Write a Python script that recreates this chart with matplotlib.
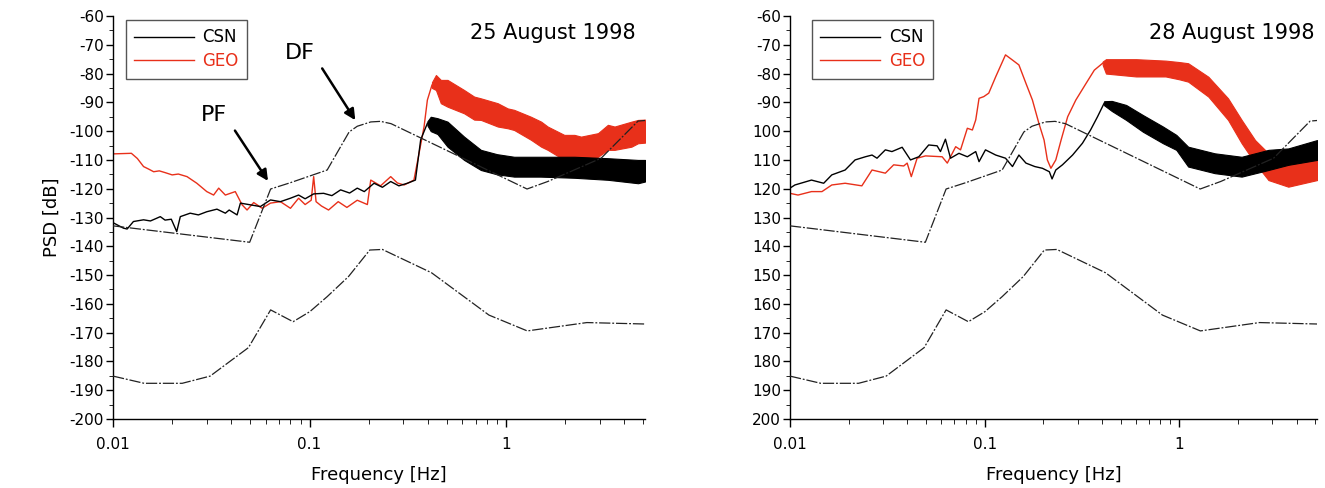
import matplotlib
matplotlib.use('Agg')
import matplotlib.pyplot as plt
from matplotlib.ticker import MultipleLocator, NullFormatter, FixedLocator
import numpy as np

plt.rcParams['font.family'] = ['DejaVu Sans']

RED = '#e8301a'

# dashed model curves (same in both panels)
upper_f = [0.01, 0.0496, 0.0634, 0.08, 0.123, 0.159, 0.175, 0.205, 0.23, 0.26, 1.28, 1.63, 3.05, 4.7, 5.1]
upper_db = [-132.9, -138.6, -120.1, -117.9, -113.5, -100.3, -98.3, -96.8, -96.6, -97.4, -120.1, -117.5, -109.4, -96.5, -96.3]
lower_f = [0.01, 0.0144, 0.0225, 0.0312, 0.0489, 0.0634, 0.0825, 0.1004, 0.123, 0.158, 0.2026, 0.235, 0.418, 0.819, 1.283, 2.58, 5.1]
lower_db = [-185.1, -187.6, -187.6, -185.1, -175.2, -162.1, -166.2, -162.7, -157.5, -150.5, -141.3, -141.1, -149.2, -163.9, -169.4, -166.5, -167.0]

# 25 August 1998, CSN: thin part then noisy band
csn25_f = [0.01, 0.0113, 0.0118, 0.0127, 0.0143, 0.0155, 0.0165, 0.0174, 0.0184, 0.0198, 0.0211, 0.022,
           0.0247, 0.0272, 0.030, 0.0338, 0.0373, 0.039, 0.0428, 0.0445, 0.050, 0.0562, 0.0633, 0.0711,
           0.080, 0.088, 0.095, 0.105, 0.118, 0.13, 0.144, 0.16, 0.175, 0.19, 0.213, 0.235, 0.259, 0.285,
           0.315, 0.346, 0.368, 0.398]
csn25_db = [-131.8, -133.7, -134.0, -131.4, -130.8, -131.2, -130.4, -129.7, -130.9, -130.6, -134.9, -129.7,
            -128.5, -129.1, -128.0, -127.1, -128.5, -127.4, -129.1, -125.0, -125.6, -126.2, -123.9, -124.5,
            -123.3, -122.2, -123.5, -121.8, -121.6, -122.4, -120.4, -121.5, -119.8, -121.0, -118.1, -119.5,
            -117.5, -119.0, -118.1, -117.0, -103.0, -97.3]
csn25_band_f = [0.398, 0.414, 0.448, 0.504, 0.612, 0.745, 0.9, 1.1, 1.5, 2.23, 3.3, 4.7, 5.1]
csn25_lo = [-98.0, -100.0, -101.0, -105.4, -110.0, -113.5, -115.0, -115.8, -115.8, -116.2, -116.9, -118.1, -117.5]
csn25_hi = [-96.6, -95.0, -95.5, -96.7, -101.9, -106.5, -108.0, -108.9, -108.9, -108.9, -109.4, -110.0, -110.0]

# 25 August 1998, GEO
geo25_f = [0.01, 0.0124, 0.0133, 0.0143, 0.0152, 0.0161, 0.0172, 0.0184, 0.020, 0.0215, 0.0238, 0.0267,
           0.030, 0.0325, 0.0345, 0.0373, 0.0419, 0.0454, 0.0481, 0.052, 0.0574, 0.0633, 0.0711, 0.080,
           0.088, 0.095, 0.102, 0.105, 0.108, 0.115, 0.125, 0.14, 0.155, 0.175, 0.197, 0.205, 0.23, 0.259,
           0.28, 0.303, 0.34, 0.361, 0.383, 0.398, 0.42]
geo25_db = [-107.9, -107.7, -109.5, -112.3, -113.2, -114.1, -113.8, -114.4, -115.2, -114.9, -115.8, -118.1,
            -121.0, -122.2, -119.8, -122.2, -121.0, -125.6, -127.4, -124.8, -126.8, -125.0, -124.5, -126.8,
            -123.3, -125.5, -124.0, -115.8, -124.5, -126.0, -127.4, -124.5, -126.5, -124.0, -125.5, -117.0,
            -119.0, -115.8, -118.0, -118.7, -117.0, -107.7, -98.4, -89.2, -84.0]
geo25_band_f = [0.42, 0.44, 0.466, 0.504, 0.612, 0.689, 0.745, 0.908, 1.02, 1.10, 1.34, 1.51, 1.63, 1.98,
                2.23, 2.41, 2.94, 3.3, 3.57, 4.35, 4.7, 5.1]
geo25_lo = [-85.0, -85.7, -90.3, -91.5, -93.8, -96.0, -96.1, -98.4, -99.0, -99.6, -103.0, -105.4, -106.5,
            -110.0, -110.5, -111.1, -108.9, -106.5, -106.5, -105.4, -104.2, -104.0]
geo25_hi = [-83.0, -80.5, -82.2, -82.2, -85.7, -88.0, -88.6, -90.3, -92.1, -92.6, -95.0, -96.7, -98.4,
            -101.3, -101.3, -101.9, -100.7, -97.8, -98.4, -96.7, -96.1, -96.0]

# 28 August 1998, CSN
csn28_f = [0.01, 0.0106, 0.0129, 0.0149, 0.0164, 0.0192, 0.0216, 0.0244, 0.0264, 0.028, 0.0309, 0.0334,
           0.0377, 0.0416, 0.0459, 0.0516, 0.057, 0.0593, 0.0629, 0.0668, 0.0738, 0.0815, 0.090, 0.0936,
           0.101, 0.114, 0.128, 0.139, 0.150, 0.163, 0.181, 0.198, 0.215, 0.222, 0.232, 0.251, 0.283,
           0.318, 0.35, 0.38, 0.411]
csn28_db = [-119.8, -118.7, -117.0, -118.1, -115.2, -113.5, -110.0, -108.9, -108.3, -109.4, -106.5, -107.1,
            -105.6, -110.0, -108.9, -104.8, -105.1, -107.1, -102.8, -109.4, -107.7, -108.9, -107.1, -110.6,
            -106.5, -108.3, -109.4, -112.3, -108.3, -111.1, -112.3, -112.9, -114.1, -116.6, -113.5, -111.7,
            -108.3, -104.2, -99.6, -95.0, -90.3]
csn28_band_f = [0.411, 0.45, 0.533, 0.65, 0.824, 0.965, 1.11, 1.52, 2.09, 2.87, 3.63, 5.1]
csn28_lo = [-91.0, -93.0, -96.1, -100.2, -104.2, -106.5, -112.3, -114.6, -115.8, -113.5, -111.7, -110.0]
csn28_hi = [-89.6, -89.5, -90.9, -94.4, -98.4, -101.3, -105.4, -107.7, -108.9, -106.5, -106.0, -103.1]

# 28 August 1998, GEO
geo28_f = [0.01, 0.011, 0.0129, 0.0146, 0.0164, 0.0192, 0.0234, 0.0264, 0.0309, 0.0341, 0.0384, 0.040,
           0.042, 0.045, 0.0497, 0.0605, 0.0643, 0.071, 0.0752, 0.0815, 0.0865, 0.090, 0.0936, 0.099,
           0.105, 0.114, 0.128, 0.139, 0.150, 0.163, 0.176, 0.19, 0.202, 0.21, 0.219, 0.232, 0.247,
           0.267, 0.294, 0.332, 0.366, 0.404]
geo28_db = [-121.6, -122.2, -121.0, -121.0, -118.7, -118.1, -119.0, -113.5, -114.6, -111.7, -112.1, -111.1,
            -115.8, -109.4, -108.6, -108.9, -111.1, -105.4, -106.5, -99.0, -99.6, -96.1, -88.6, -88.0,
            -86.8, -81.1, -73.5, -75.3, -77.0, -83.4, -89.2, -97.3, -103.1, -110.0, -112.9, -110.0, -103.1,
            -95.0, -89.2, -83.4, -78.8, -76.4]
geo28_band_f = [0.404, 0.42, 0.6, 0.85, 1.0, 1.11, 1.41, 1.78, 2.09, 2.45, 2.87, 3.63, 5.1]
geo28_lo = [-77.0, -80.0, -81.0, -81.0, -82.0, -82.8, -88.0, -96.1, -104.2, -111.1, -117.0, -119.3, -117.0]
geo28_hi = [-75.8, -75.0, -75.0, -75.5, -76.0, -76.4, -81.1, -88.6, -96.1, -103.1, -107.7, -108.9, -106.5]

yticks = list(range(-200, -59, 10))
left_ylabels = [str(v) for v in yticks]
right_ylabels = [str(v) if v >= -90 else str(-v) for v in yticks]

fig = plt.figure(figsize=(13.25, 4.88), dpi=100)
ax1 = fig.add_axes([0.0853, 0.1414, 0.4015, 0.8258])
ax2 = fig.add_axes([0.5962, 0.1414, 0.3978, 0.8258])

panels = [
    (ax1, csn25_f, csn25_db, csn25_band_f, csn25_lo, csn25_hi,
     geo25_f, geo25_db, geo25_band_f, geo25_lo, geo25_hi, '25 August 1998', left_ylabels, 0.024, 0.983),
    (ax2, csn28_f, csn28_db, csn28_band_f, csn28_lo, csn28_hi,
     geo28_f, geo28_db, geo28_band_f, geo28_lo, geo28_hi, '28 August 1998', right_ylabels, 0.042, 0.996),
]

for (ax, cf, cd, cbf, clo, chi, gf, gd, gbf, glo, ghi, title, ylabels, legx, titlex) in panels:
    ax.set_xscale('log')
    # GEO first, CSN above it
    ax.plot(gf, gd, color=RED, lw=1.0, label='GEO', zorder=2)
    ax.fill_between(gbf, glo, ghi, color=RED, lw=0.8, zorder=2)
    ax.plot(cf, cd, color='black', lw=1.0, label='CSN', zorder=3)
    ax.fill_between(cbf, clo, chi, color='black', lw=0.8, zorder=3)
    ax.plot(upper_f, upper_db, color='#222222', lw=0.9, ls=(0, (9, 1.5, 1.5, 1.5)), zorder=4)
    ax.plot(lower_f, lower_db, color='#222222', lw=0.9, ls=(0, (9, 1.5, 1.5, 1.5)), zorder=4)

    ax.set_xlim(0.01, 5.1)
    ax.set_ylim(-200, -60)
    ax.set_xticks([0.01, 0.1, 1])
    ax.set_xticklabels(['0.01', '0.1', '1'])
    ax.xaxis.set_minor_locator(FixedLocator([m * 10.0 ** e for e in (-2, -1, 0) for m in range(2, 10)]))
    ax.xaxis.set_minor_formatter(NullFormatter())
    ax.set_yticks(yticks)
    ax.set_yticklabels(ylabels)
    ax.yaxis.set_minor_locator(MultipleLocator(5))
    ax.tick_params(axis='both', which='major', labelsize=11, width=1)
    ax.tick_params(axis='y', which='major', length=5, pad=1.5)
    ax.tick_params(axis='y', which='minor', length=3)
    ax.tick_params(axis='x', which='major', length=6, pad=7)
    ax.tick_params(axis='x', which='minor', length=3.5)
    for s in ['top', 'right']:
        ax.spines[s].set_visible(False)
    for s in ['left', 'bottom']:
        ax.spines[s].set_linewidth(1)
    ax.set_xlabel('Frequency [Hz]', fontsize=13, labelpad=10)

    h, l = ax.get_legend_handles_labels()
    leg = ax.legend(h[::-1], l[::-1], loc='upper left', bbox_to_anchor=(legx, 0.99), borderaxespad=0,
                    fontsize=12, handlelength=3.6, handletextpad=0.5, labelspacing=0.35,
                    fancybox=False, framealpha=1, edgecolor='#555555', borderpad=0.5)
    leg.get_frame().set_linewidth(1)
    for txt, line in zip(leg.get_texts(), leg.get_lines()):
        txt.set_color(line.get_color())

    ax.text(titlex, 0.957, title, transform=ax.transAxes, ha='right', va='center', fontsize=15)

ax1.set_ylabel('PSD [dB]', fontsize=13, labelpad=6)

ax1.annotate('', xy=(0.0626, -118.1), xytext=(0.041, -99),
             arrowprops=dict(arrowstyle='-|>', color='black', lw=1.8, mutation_scale=16))
ax1.annotate('', xy=(0.174, -97), xytext=(0.114, -77.4),
             arrowprops=dict(arrowstyle='-|>', color='black', lw=1.8, mutation_scale=16))
ax1.text(0.0326, -94.4, 'PF', fontsize=16, ha='center', va='center')
ax1.text(0.0889, -72.7, 'DF', fontsize=16, ha='center', va='center')

fig.savefig('out.png', dpi=100)
